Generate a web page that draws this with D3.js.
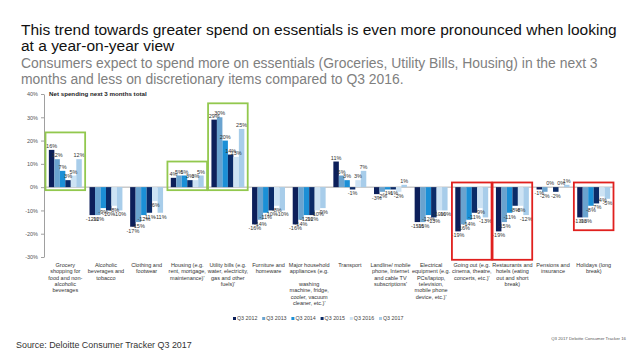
<!DOCTYPE html>
<html><head><meta charset="utf-8">
<script src="https://cdn.jsdelivr.net/npm/d3@7"></script>
<style>
html,body{margin:0;padding:0;background:#fff;}
svg{display:block;}
text{font-family:"Liberation Sans",Arial,sans-serif;}
</style></head>
<body>
<svg id="chart" width="638" height="359"></svg>
<script>
// ---- data ----
const categories = [
  ["Grocery","shopping for","food and non-","alcoholic","beverages"],
  ["Alcoholic","beverages and","tobacco"],
  ["Clothing and","footwear"],
  ["Housing (e.g.","rent, mortgage,","maintenance)'"],
  ["Utility bills (e.g.","water, electricity,","gas and other","fuels)'"],
  ["Furniture and","homeware"],
  ["Major household","appliances (e.g.","","washing","machine, fridge,","cooler, vacuum","cleaner, etc.)'"],
  ["Transport"],
  ["Landline/ mobile","phone, Internet","and cable TV","subscriptions'"],
  ["Electrical","equipment (e.g.","PCs/laptop,","television,","mobile phone","device, etc.)'"],
  ["Going out (e.g.","cinema, theatre,","concerts, etc.)'"],
  ["Restaurants and","hotels (eating","out and short","break)"],
  ["Pensions and","insurance"],
  ["Holidays (long","break)"]
];
const seriesNames = ["Q3 2012","Q3 2013","Q3 2014","Q3 2015","Q3 2016","Q3 2017"];
const q3_2012 = [16,-12,-17,4,29,-16,-16,11,-3,-15,-19,-19,-1,-13];
const q3_2013 = [12,-12,-15,5,30,-14,-14,5,-2,-15,-16,-15,-2,-13];
const q3_2014 = [7,-9,-12,5,20,-11,-12,3,-1,-12,-14,-11,0,-8];
const q3_2015 = [3,-10,-11,3,14,-10,-12,-1,-1,-13,-11,-8,-2,-7];
const q3_2016 = [5,-8,-6,3,13,-8,-10,3,-2,-10,-9,-8,0,-4];
const q3_2017 = [12,-10,-11,5,25,-10,-9,7,1,-10,-13,-12,1,-5];
const seriesValues = [q3_2012,q3_2013,q3_2014,q3_2015,q3_2016,q3_2017];
const yTicks = [40,30,20,10,0,-10,-20,-30];
// highlight boxes: [category index, top value, bottom value]
const greenBoxes = [[0,23.5,-1.3],[3,11,-1.3],[4,36,-1.3]];
const redBoxes = [[10,2,-31.2],[11,2,-31.2],[13,2,-18.5]];

// ---- styles ----
const colors = ["#0c1f5a","#6aa3cf","#1b8fd6","#0b2b68","#cde3f4","#a8cdea"];

const svg = d3.select("#chart");

// text fitted to a target width
function fitText(x, yy, txt, size, width, color){
  const t = svg.append("text").attr("x",x).attr("y",yy)
    .attr("font-family","'DejaVu Sans',Verdana,sans-serif")
    .attr("font-size",size).attr("fill",color).text(txt);
  const w = t.node().getComputedTextLength();
  if (w > 0) t.attr("font-size", size * width / w);
  return t;
}
fitText(21,35,"This trend towards greater spend on essentials is even more pronounced when looking",13.5,596,"#111");
const tl = svg.append("text").attr("x",21).attr("y",51);
svg.select("text").each(function(){ tl.attr("font-size", d3.select(this).attr("font-size")); });
tl.attr("font-family","'DejaVu Sans',Verdana,sans-serif").attr("fill","#111").text("at a year-on-year view");
fitText(21,68,"Consumers expect to spend more on essentials (Groceries, Utility Bills, Housing) in the next 3",11.5,577,"#808080");
const s2 = svg.append("text").attr("x",21).attr("y",84)
  .attr("font-family","'DejaVu Sans',Verdana,sans-serif").attr("fill","#808080")
  .text("months and less on discretionary items compared to Q3 2016.");
s2.attr("font-size", svg.selectAll("text").nodes()[2].getAttribute("font-size"));

// scales
const x0 = d3.scaleBand().domain(d3.range(categories.length)).range([45,614])
  .paddingInner(0.19).paddingOuter(0.095);
const x1 = d3.scaleBand().domain(d3.range(seriesNames.length)).range([0,x0.bandwidth()]).padding(0);
const y = d3.scaleLinear().domain([-30,40]).range([257,94]);

// y axis
const yAxis = d3.axisLeft(y).tickValues(yTicks).tickFormat(d=>d+"%").tickSize(3).tickSizeOuter(0);
const ga = svg.append("g").attr("transform","translate(44,0)").call(yAxis);
ga.select(".domain").attr("stroke","#888").attr("stroke-width",0.8);
ga.selectAll(".tick line").attr("stroke","#888").attr("stroke-width",0.8);
ga.selectAll(".tick text").attr("font-size",5.5).attr("fill","#555").attr("x",-6)
  .attr("font-family","'Liberation Sans',Arial,sans-serif");

// zero line
svg.append("line").attr("x1",44).attr("x2",614).attr("y1",y(0)).attr("y2",y(0))
  .attr("stroke","#999").attr("stroke-width",0.8);

// chart label
svg.append("text").attr("x",49).attr("y",96).attr("font-size",6.2).attr("font-weight","bold")
  .attr("fill","#222").text("Net spending next 3 months total");

// bars
const flat = [];
categories.forEach((c,i)=>seriesValues.forEach((s,j)=>flat.push({i,j,v:s[i]})));
svg.append("g").selectAll("rect").data(flat).join("rect")
  .attr("x",d=>x0(d.i)+x1(d.j))
  .attr("width",x1.bandwidth())
  .attr("y",d=>y(Math.max(0,d.v)))
  .attr("height",d=>Math.abs(y(d.v)-y(0)))
  .attr("fill",d=>colors[d.j]);

// value labels
svg.append("g").selectAll("text").data(flat).join("text")
  .attr("x",d=>x0(d.i)+x1(d.j)+x1.bandwidth()/2)
  .attr("y",d=>d.v>=0 ? y(d.v)-2 : y(d.v)+6)
  .attr("text-anchor","middle").attr("font-size",5.5).attr("fill","#333")
  .text(d=>d.v+"%");

// highlight boxes
function boxes(list,color){
  svg.append("g").selectAll("rect").data(list).join("rect")
    .attr("x",d=>x0(d[0])-x0.step()*0.095+0.5)
    .attr("width",x0.step()-1)
    .attr("y",d=>y(d[1]))
    .attr("height",d=>y(d[2])-y(d[1]))
    .attr("fill","none").attr("stroke",color).attr("stroke-width",1.8);
}
boxes(greenBoxes,"#92c84e");
boxes(redBoxes,"#e0201e");

// x labels
const xl = svg.append("g").selectAll("text").data(categories).join("text")
  .attr("x",(d,i)=>x0(i)+x0.bandwidth()/2)
  .attr("y",267).attr("text-anchor","middle").attr("font-size",5.5).attr("fill","#333");
xl.each(function(d,i){
  const t = d3.select(this);
  d.forEach((line,k)=>{
    t.append("tspan").attr("x",x0(i)+x0.bandwidth()/2).attr("y",267+k*6.3).text(line);
  });
});

// legend
const lg = svg.append("g").selectAll("g").data(seriesNames).join("g")
  .attr("transform",(d,i)=>`translate(${233+i*29.2},320)`);
lg.append("rect").attr("x",0).attr("y",-3).attr("width",3).attr("height",3).attr("fill",(d,i)=>colors[i]);
lg.append("text").attr("x",4).attr("y",0.3).attr("font-size",5.3).attr("fill","#444").text(d=>d);

// footer
fitText(16,348,"Source: Deloitte Consumer Tracker Q3 2017",9.5,176,"#333");
svg.append("text").attr("x",626).attr("y",340).attr("text-anchor","end").attr("font-size",4.3)
  .attr("fill","#555").text("Q3 2017 Deloitte Consumer Tracker 16");
</script>
</body></html>
